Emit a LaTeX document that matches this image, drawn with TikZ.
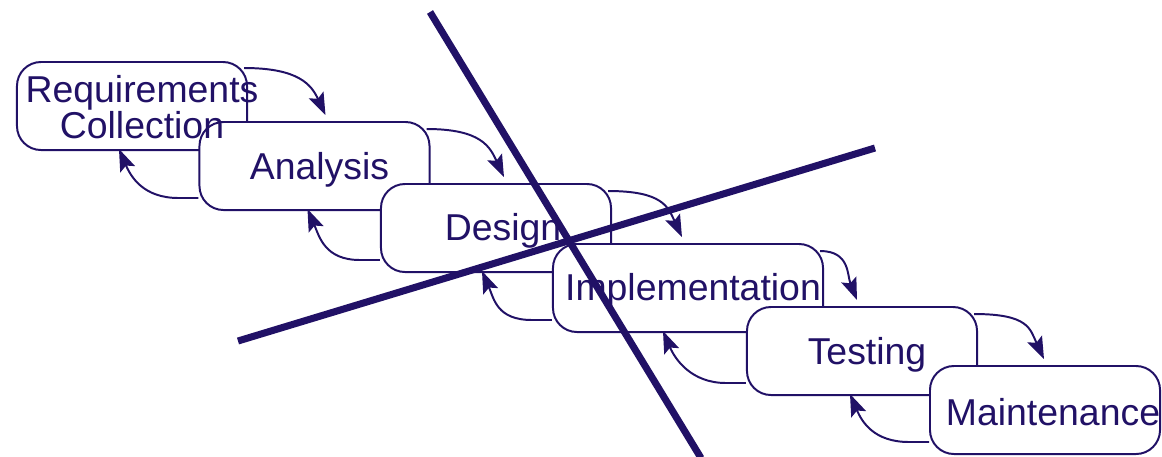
\documentclass[tikz,border=0pt]{standalone}
\usepackage{fontspec}
\setmainfont{Liberation Sans}
\usetikzlibrary{arrows.meta,calc}
\definecolor{ink}{RGB}{33,17,102}
\begin{document}
\begin{tikzpicture}[x=0.025cm,y=-0.025cm,
		phase/.style={draw=ink,fill=white,line width=1.4pt,rounded corners=0.6cm,
			minimum width=5.75cm,minimum height=2.2cm,inner sep=0pt},
		tag/.style={align=center,text=ink,inner sep=0pt,
			font=\fontsize{26.6}{21.3}\selectfont},
		flow/.style={draw=ink,line width=1.4pt,
			-{Stealth[length=0.55cm,width=0.4cm,inset=0.1cm]}},
		cut/.style={draw=ink,line width=5pt}]
		\useasboundingbox (0,0) rectangle (1162,456);
		\node[phase] (req) at (132,106) {};
		\node[phase] (ana) at (314.5,166) {};
		\node[phase] (des) at (496,228) {};
		\node[phase,minimum width=6.75cm] (imp) at (688,288) {};
		\node[phase] (tes) at (862,351) {};
		\node[phase] (mai) at (1045,410) {};
		\node[tag] (reqT) at ($(req)+(10,1)$) {Requirements\\Collection};
		\node[tag] (anaT) at ($(ana)+(5,4)$) {Analysis};
		\node[tag] (desT) at ($(des)+(7,3)$) {Design};
		\node[tag] (impT) at ($(imp)+(5,3)$) {Implementation};
		\node[tag] (tesT) at ($(tes)+(5,4)$) {Testing};
		\node[tag] (maiT) at ($(mai)+(8,2)$) {Maintenance};
		\draw[flow] ($(req.north east)+(-4,7)$) .. controls +(55,0) and +(-14,-30) .. ($(ana.north west)+(127,-6)$);
		\draw[flow] ($(ana.north east)+(-4,8)$) .. controls +(55,0) and +(-14,-30) .. ($(des.north west)+(124,-6)$);
		\draw[flow] ($(des.north east)+(-4,8)$) .. controls +(55,0) and +(-14,-30) .. ($(imp.north west)+(130,-6)$);
		\draw[flow] ($(imp.north east)+(-4,8)$) .. controls +(30,0) and +(-10,-25) .. ($(tes.north west)+(111,-6)$);
		\draw[flow] ($(tes.north east)+(-4,8)$) .. controls +(55,0) and +(-14,-30) .. ($(mai.north west)+(115,-6)$);
		\draw[flow] ($(ana.south west)+(0,-13)$) -- ++(-20,0) .. controls +(-35,0) and +(12,28) .. ($(req.south west)+(103,-2)$);
		\draw[flow] ($(des.south west)+(0,-13)$) -- ++(-20,0) .. controls +(-35,0) and +(12,28) .. ($(ana.south west)+(109,-2)$);
		\draw[flow] ($(imp.south west)+(0,-13)$) -- ++(-20,0) .. controls +(-35,0) and +(12,28) .. ($(des.south west)+(102,-2)$);
		\draw[flow] ($(tes.south west)+(0,-13)$) -- ++(-20,0) .. controls +(-35,0) and +(12,28) .. ($(imp.south west)+(111,-2)$);
		\draw[flow] ($(mai.south west)+(0,-13)$) -- ++(-20,0) .. controls +(-35,0) and +(12,28) .. ($(tes.south west)+(104,-2)$);
		\coordinate (cutA) at (430,12);
		\coordinate (cutB) at (701,458);
		\coordinate (cutC) at (238,341);
		\coordinate (cutD) at (875,148);
		\draw[cut] (cutA) -- (cutB);
		\draw[cut] (cutC) -- (cutD);
\end{tikzpicture}
\end{document}
